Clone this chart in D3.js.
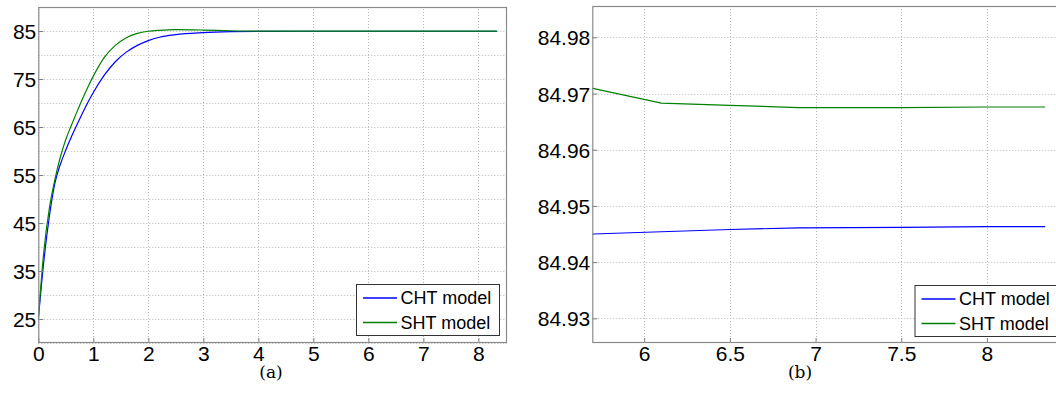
<!DOCTYPE html>
<html>
<head>
<meta charset="utf-8">
<script src="https://cdn.jsdelivr.net/npm/d3@7"></script>
<style>
  body { margin: 0; background: #fff; }
  svg { display: block; }
  .tick text { font-family: "Liberation Sans", Arial, sans-serif; fill: #000; }
  .caption { font-family: "DejaVu Serif", serif; font-size: 17px; }
</style>
</head>
<body>
<div id="chart"></div>
<script>
// time (s) and temperature of both models
const time = [0, 0.1, 0.2, 0.3, 0.4, 0.5, 0.6, 0.7, 0.8, 0.9, 1.0, 1.2, 1.4, 1.6, 1.8, 2.0,
  2.2, 2.5, 3.0, 3.5, 4.0, 5.0, 5.7, 6.1, 6.5, 6.9, 7.5, 8.0, 8.34];
const cht = [25, 37, 46.3, 53.2, 57.2, 60.2, 62.9, 65.4, 67.8, 70.1, 72.2, 75.8, 78.6, 80.6, 82.0, 83.0,
  83.7, 84.25, 84.65, 84.85, 84.93, 84.9445, 84.9450, 84.9454, 84.9458, 84.9461, 84.9462, 84.9463, 84.9463];
const sht = [25, 39, 48, 54, 58.7, 62.4, 65.3, 68.1, 70.8, 73.3, 75.6, 79.5, 82.0, 83.6, 84.5, 84.95,
  85.15, 85.28, 85.2, 85.05, 84.98, 84.9755, 84.9709, 84.9683, 84.9679, 84.9675, 84.9675, 84.9676, 84.9676];

const seriesNames = ["CHT model", "SHT model"];
const seriesColors = ["#0000ff", "#008000"];

// panel (a)
const xTicksA = [0, 1, 2, 3, 4, 5, 6, 7, 8];
const yGridA = [20, 25, 30, 35, 40, 45, 50, 55, 60, 65, 70, 75, 80, 85, 90];
const yLabelsA = [25, 35, 45, 55, 65, 75, 85];
// panel (b)
const xTicksB = [6, 6.5, 7, 7.5, 8];
const yTicksB = [84.93, 84.94, 84.95, 84.96, 84.97, 84.98];

const W = 1056, H = 409;
const svg = d3.select("#chart").append("svg").attr("width", W).attr("height", H);

const panels = [
  {id: "a", x: d3.scaleLinear().domain([0, 8.52]).range([38.3, 507]),
   y: d3.scaleLinear().domain([20, 90]).range([343, 7]),
   xTicks: xTicksA, yGrid: yGridA, yLabels: yLabelsA, fmt: d3.format("d"),
   curve: d3.curveMonotoneX, legend: [356, 284], caption: [271, "(a)"]},
  {id: "b", x: d3.scaleLinear().domain([5.697, 8.52]).range([592.3, 1076]),
   y: d3.scaleLinear().domain([84.92561, 84.98557]).range([343, 6]),
   xTicks: xTicksB, yGrid: yTicksB, yLabels: yTicksB, fmt: d3.format(".2f"),
   curve: d3.curveLinear, legend: [914.5, 285], caption: [800, "(b)"]}
];

const data = time.map((t, i) => ({t, v: [cht[i], sht[i]]}));

panels.forEach(p => {
  const [x0, x1] = p.x.range();
  const [y0, y1] = p.y.range();
  const g = svg.append("g");

  g.append("clipPath").attr("id", "clip-" + p.id)
    .append("rect").attr("x", x0).attr("y", y1).attr("width", x1 - x0).attr("height", y0 - y1);

  // grid
  g.append("g").selectAll("line").data(p.yGrid).join("line")
    .attr("x1", x0).attr("x2", x1)
    .attr("y1", d => Math.round(p.y(d)) + 0.5).attr("y2", d => Math.round(p.y(d)) + 0.5)
    .attr("stroke", "#b8b8b8").attr("stroke-dasharray", "1,2");
  g.append("g").selectAll("line").data(p.xTicks).join("line")
    .attr("y1", y0).attr("y2", y1)
    .attr("x1", d => Math.round(p.x(d)) + 0.5).attr("x2", d => Math.round(p.x(d)) + 0.5)
    .attr("stroke", "#b8b8b8").attr("stroke-dasharray", "1,2");

  // curves
  seriesNames.forEach((name, k) => {
    const line = d3.line().curve(p.curve).x(d => p.x(d.t)).y(d => p.y(d.v[k]));
    g.append("path").datum(data)
      .attr("clip-path", "url(#clip-" + p.id + ")")
      .attr("fill", "none").attr("stroke", seriesColors[k]).attr("stroke-width", 1.2)
      .attr("d", line);
  });

  // axes (ticks inward)
  const xa = g.append("g").attr("transform", `translate(0,${y0})`)
    .call(d3.axisBottom(p.x).tickValues(p.xTicks).tickSize(-5).tickPadding(3).tickFormat(d3.format("")));
  const ya = g.append("g").attr("transform", `translate(${x0},0)`)
    .call(d3.axisLeft(p.y).tickValues(p.yLabels).tickSize(-5).tickPadding(2).tickFormat(p.fmt));
  [xa, ya].forEach(a => {
    a.select(".domain").remove();
    a.selectAll(".tick line").attr("stroke", "#808080");
    a.selectAll(".tick text").attr("font-size", 21);
  });
  xa.selectAll(".tick text").attr("dy", "0.72em");
  ya.selectAll(".tick text").attr("dy", "0.36em");

  // box
  g.append("rect").attr("x", x0 + 0.5).attr("y", y1 + 0.5)
    .attr("width", x1 - x0 - 1).attr("height", y0 - y1 - 1)
    .attr("fill", "none").attr("stroke", "#8a8a8a").attr("stroke-width", 1.2);

  // legend
  const [lx, ly] = p.legend;
  const lg = g.append("g").attr("transform", `translate(${lx},${ly})`);
  lg.append("rect").attr("x", 0.5).attr("y", 0.5).attr("width", 143).attr("height", 51)
    .attr("fill", "#fff").attr("stroke", "#333").attr("stroke-width", 1);
  seriesNames.forEach((name, k) => {
    const yy = 14 + k * 24.5;
    lg.append("line").attr("x1", 7).attr("x2", 41).attr("y1", yy).attr("y2", yy)
      .attr("stroke", seriesColors[k]).attr("stroke-width", 1.5);
    lg.append("text").attr("x", 44.5).attr("y", yy).attr("dy", "0.36em")
      .attr("font-family", "Liberation Sans, Arial, sans-serif").attr("font-size", 18)
      .text(name);
  });

  svg.append("text").attr("class", "caption")
    .attr("x", p.caption[0]).attr("y", 378).attr("text-anchor", "middle").text(p.caption[1]);
});
</script>
</body>
</html>
